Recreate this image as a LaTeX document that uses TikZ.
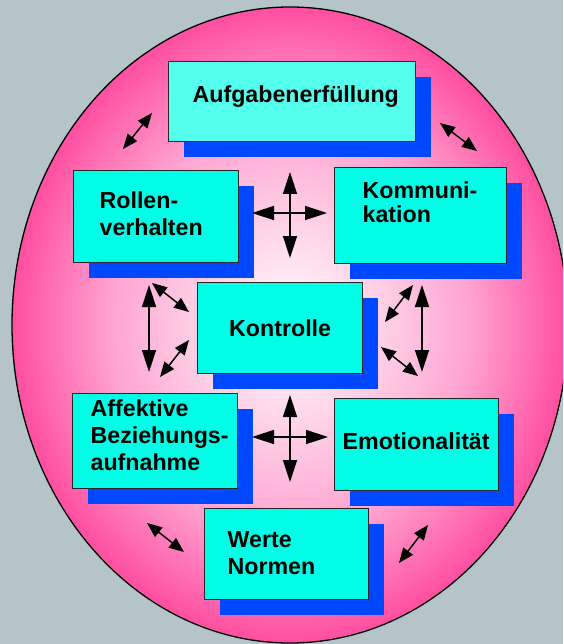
\documentclass[tikz,border=0pt]{standalone}
\usepackage{fontspec}
\setmainfont{Liberation Sans}
\usetikzlibrary{arrows.meta,shadows}

\definecolor{grund}{RGB}{180,196,200}
\definecolor{eiaussen}{RGB}{255,78,160}
\definecolor{eimitte}{RGB}{255,165,210}
\definecolor{eiinnen}{RGB}{255,238,245}
\definecolor{tuerkis}{RGB}{0,255,230}
\definecolor{hellturkis}{RGB}{85,255,238}
\definecolor{schatten}{RGB}{0,72,255}
\pgfdeclareradialshading{ei}{\pgfpoint{0bp}{0bp}}{color(0bp)=(eiinnen); color(3bp)=(eiinnen); color(16bp)=(eimitte); color(25bp)=(eiaussen); color(50bp)=(eiaussen)}

\begin{document}
\begin{tikzpicture}
[x=1pt,y=-1pt,>={Triangle[length=22pt,width=14pt]},
  box/.style={rectangle,draw=black!85,line width=1.3pt,fill=tuerkis,anchor=north west,
    inner ysep=0pt,align=left,font={\fontsize{23.2}{27}\selectfont\bfseries\hyphenpenalty=10000\exhyphenpenalty=10000},
    drop shadow={shadow xshift=15pt,shadow yshift=-15pt,fill=schatten,opacity=1,draw=none}},
  pfeil/.style={<->,line width=1.5pt},
  kurz/.style={pfeil,>={Triangle[length=15pt,width=12pt]}}]
  \path[use as bounding box,fill=grund] (0,0) rectangle (563,644);
  \clip (0,0) rectangle (563,644);
  \draw[line width=1.3pt,shading=ei] (290,325) ellipse [x radius=278,y radius=318];

  \node[box,fill=hellturkis,text width=199pt,inner xsep=24pt,text height=41pt,text depth=39pt] (aufgabe) at (168,61) {Aufgabenerfüllung};
  \node[box,text width=113pt,inner xsep=26pt,text height=38pt,text depth=54pt] (rollen) at (73,170) {Rollen-\\verhalten};
  \node[box,text width=116pt,inner xsep=28pt,text height=31pt,text depth=65pt] (kommunikation) at (334,167) {Kommuni-\\[-3pt]kation};
  \node[box,align=center,text width=145pt,inner xsep=10pt,text height=54pt,text depth=37pt] (kontrolle) at (197,282) {Kontrolle};
  \node[box,text width=129pt,inner xsep=18pt,text height=23pt,text depth=72pt] (affektiv) at (72,393) {Affektive\\Beziehungs-\\aufnahme};
  \node[box,text width=148pt,inner xsep=8pt,text height=51pt,text depth=41pt] (emotion) at (334,398) {Emotionalität};
  \node[box,text width=118pt,inner xsep=23pt,text height=39pt,text depth=52pt] (werte) at (204,508) {Werte\\Normen};

  % Pfeilenden
  \coordinate (ol1) at (123,149); \coordinate (ol2) at (152,113);
  \coordinate (or1) at (440,123); \coordinate (or2) at (477,151);
  \coordinate (ko1) at (252,213); \coordinate (ko2) at (327,213);
  \coordinate (ko3) at (290,172); \coordinate (ko4) at (290,258);
  \coordinate (li1) at (149,285); \coordinate (li2) at (149,372);
  \coordinate (li3) at (152,283); \coordinate (li4) at (189,312);
  \coordinate (li5) at (160,377); \coordinate (li6) at (189,340);
  \coordinate (re1) at (422,285); \coordinate (re2) at (422,372);
  \coordinate (re3) at (413,285); \coordinate (re4) at (385,322);
  \coordinate (re5) at (381,347); \coordinate (re6) at (418,376);
  \coordinate (ku1) at (252,437); \coordinate (ku2) at (328,437);
  \coordinate (ku3) at (290,395); \coordinate (ku4) at (290,482);
  \coordinate (ul1) at (147,523); \coordinate (ul2) at (184,552);
  \coordinate (ur1) at (428,525); \coordinate (ur2) at (399,563);

  \draw[kurz] (ol1) -- (ol2);
  \draw[kurz] (or1) -- (or2);
  \draw[pfeil] (ko1) -- (ko2);
  \draw[pfeil] (ko3) -- (ko4);
  \draw[pfeil] (li1) -- (li2);
  \draw[kurz] (li3) -- (li4);
  \draw[kurz] (li5) -- (li6);
  \draw[pfeil] (re1) -- (re2);
  \draw[kurz] (re3) -- (re4);
  \draw[kurz] (re5) -- (re6);
  \draw[pfeil] (ku1) -- (ku2);
  \draw[pfeil] (ku3) -- (ku4);
  \draw[kurz] (ul1) -- (ul2);
  \draw[kurz] (ur1) -- (ur2);
\end{tikzpicture}
\end{document}
